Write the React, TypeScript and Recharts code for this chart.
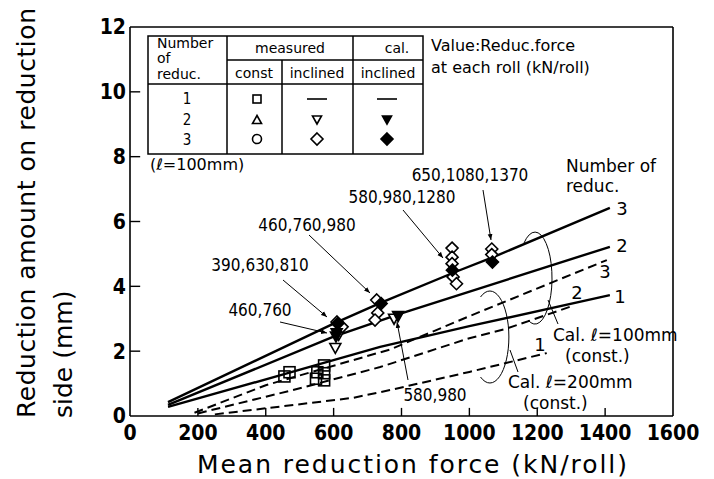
import React from 'react';
import { ComposedChart, Line, Scatter, XAxis, YAxis, ReferenceLine } from 'recharts';

const xTicks = [0, 200, 400, 600, 800, 1000, 1200, 1400, 1600];
const yTicks = [0, 2, 4, 6, 8, 10, 12];

// calculated, inclined rolls (solid)
const calInclined1 = [
  { x: 112, y: 0.28 }, { x: 457, y: 1.3 }, { x: 737, y: 2.13 }, { x: 1000, y: 2.77 }, { x: 1414, y: 3.73 },
];
const calInclined2 = [
  { x: 112, y: 0.34 }, { x: 598, y: 2.44 }, { x: 804, y: 3.18 }, { x: 1100, y: 4.17 }, { x: 1414, y: 5.22 },
];
const calInclined3 = [
  { x: 112, y: 0.43 }, { x: 600, y: 2.85 }, { x: 740, y: 3.5 }, { x: 960, y: 4.45 }, { x: 1070, y: 4.9 }, { x: 1414, y: 6.42 },
];

// calculated, constant rolls (dashed)
const calConst3 = [
  { x: 190, y: 0.1 }, { x: 400, y: 0.95 }, { x: 766, y: 2.05 }, { x: 1000, y: 3.08 }, { x: 1405, y: 4.81 },
];
const calConst2 = [
  { x: 200, y: 0.08 }, { x: 480, y: 0.8 }, { x: 737, y: 1.51 }, { x: 1000, y: 2.4 }, { x: 1111, y: 2.7 }, { x: 1305, y: 3.4 },
];
const calConst1 = [
  { x: 250, y: 0.05 }, { x: 657, y: 0.56 }, { x: 766, y: 0.8 }, { x: 1000, y: 1.36 }, { x: 1228, y: 1.94 },
];

// measured points
const measConst1 = [
  { x: 455, y: 1.22 }, { x: 470, y: 1.35 }, { x: 548, y: 1.15 }, { x: 552, y: 1.35 },
  { x: 572, y: 1.1 }, { x: 572, y: 1.32 }, { x: 572, y: 1.56 },
];
const measInclined2 = [
  { x: 605, y: 2.1 }, { x: 615, y: 2.5 }, { x: 778, y: 3.0 },
];
const calPts2 = [
  { x: 607, y: 2.45 }, { x: 609, y: 2.55 }, { x: 790, y: 3.08 },
];
const measInclined3 = [
  { x: 610, y: 2.9 }, { x: 625, y: 2.75 },
  { x: 727, y: 3.58 }, { x: 730, y: 3.18 }, { x: 722, y: 2.96 },
  { x: 949, y: 5.18 }, { x: 949, y: 4.9 }, { x: 949, y: 4.7 }, { x: 952, y: 4.29 }, { x: 962, y: 4.08 },
  { x: 1066, y: 5.15 }, { x: 1066, y: 4.98 },
];
const calPts3 = [
  { x: 612, y: 2.85 }, { x: 740, y: 3.47 }, { x: 950, y: 4.5 }, { x: 1068, y: 4.75 },
];

const tickFont = "'DejaVu Sans Condensed', 'Liberation Sans Narrow', sans-serif";
const textFont = "'DejaVu Sans', sans-serif";

const OpenSquare = (p: any) => (
  <rect x={p.cx - 5.5} y={p.cy - 5.5} width={11} height={11} fill="none" stroke="#000" strokeWidth={1.6} />
);
const DownTri = (filled: boolean) => (p: any) => (
  <path
    d={`M${p.cx - 5.5},${p.cy - 4.5} L${p.cx + 5.5},${p.cy - 4.5} L${p.cx},${p.cy + 5.5} Z`}
    fill={filled ? '#000' : '#fff'}
    stroke="#000"
    strokeWidth={1.6}
  />
);
const Diamond = (filled: boolean) => (p: any) => (
  <path
    d={`M${p.cx},${p.cy - 6} L${p.cx + 6},${p.cy} L${p.cx},${p.cy + 6} L${p.cx - 6},${p.cy} Z`}
    fill={filled ? '#000' : '#fff'}
    stroke="#000"
    strokeWidth={1.6}
  />
);

function Overlay() {
  const t = { fontFamily: textFont, fill: '#000' } as const;
  const n = { fontFamily: tickFont, fill: '#000' } as const;
  return (
    <svg width={714} height={479} style={{ position: 'absolute', left: 0, top: 0, pointerEvents: 'none' }}>
      <defs>
        <marker id="ah" viewBox="0 0 10 10" refX="10" refY="5" markerWidth="6" markerHeight="6" orient="auto">
          <path d="M0,1 L10,5 L0,9 Z" fill="#000" />
        </marker>
      </defs>

      {/* axis titles */}
      <text {...t} fontSize={25} transform="translate(35,418) rotate(-90)" textLength={410} lengthAdjust="spacing">
        Reduction amount on reduction
      </text>
      <text {...t} fontSize={25} transform="translate(72,418) rotate(-90)">side (mm)</text>
      <text {...t} fontSize={25} x={412} y={473} textAnchor="middle" textLength={430} lengthAdjust="spacing">
        Mean reduction force (kN/roll)
      </text>

      {/* legend table */}
      <g stroke="#000" strokeWidth={1.5} fill="none">
        <rect x={148} y={36} width={275} height={118} />
        <line x1={148} y1={84} x2={423} y2={84} />
        <line x1={227} y1={60} x2={423} y2={60} />
        <line x1={227} y1={36} x2={227} y2={154} />
        <line x1={282} y1={60} x2={282} y2={154} />
        <line x1={353} y1={36} x2={353} y2={154} />
      </g>
      <text {...t} fontSize={14} x={157} y={48}>Number</text>
      <text {...t} fontSize={14} x={157} y={63}>of</text>
      <text {...t} fontSize={14} x={157} y={79}>reduc.</text>
      <text {...t} fontSize={14} x={290} y={53} textAnchor="middle">measured</text>
      <text {...t} fontSize={14} x={397} y={53} textAnchor="middle">cal.</text>
      <text {...t} fontSize={14} x={254} y={78} textAnchor="middle">const</text>
      <text {...t} fontSize={14} x={317} y={78} textAnchor="middle">inclined</text>
      <text {...t} fontSize={14} x={388} y={78} textAnchor="middle">inclined</text>
      <text {...n} fontSize={15} x={187} y={104} textAnchor="middle">1</text>
      <text {...n} fontSize={15} x={187} y={125} textAnchor="middle">2</text>
      <text {...n} fontSize={15} x={187} y={145} textAnchor="middle">3</text>
      <g stroke="#000" strokeWidth={1.6}>
        <rect x={253} y={95} width={8} height={8} fill="none" />
        <path d="M257,115.5 L261.5,123.5 L252.5,123.5 Z" fill="none" />
        <circle cx={257} cy={139} r={4.5} fill="none" />
        <line x1={307} y1={99} x2={327} y2={99} />
        <path d="M312.5,116 L321.5,116 L317,124 Z" fill="none" />
        <path d="M317,133 L323,139 L317,145 L311,139 Z" fill="none" />
        <line x1={377} y1={99} x2={397} y2={99} />
        <path d="M382.5,116 L391.5,116 L387,124 Z" fill="#000" />
        <path d="M387,133 L393,139 L387,145 L381,139 Z" fill="#000" />
      </g>
      <text {...t} fontSize={16} x={431} y={51}>Value:Reduc.force</text>
      <text {...t} fontSize={16} x={431} y={73}>at each roll (kN/roll)</text>
      <text {...t} fontSize={16} x={150} y={170}>(ℓ=100mm)</text>

      {/* force annotations */}
      <text {...n} fontSize={17} x={470} y={181} textAnchor="middle">650,1080,1370</text>
      <text {...n} fontSize={17} x={402} y={203} textAnchor="middle">580,980,1280</text>
      <text {...n} fontSize={17} x={307} y={231} textAnchor="middle">460,760,980</text>
      <text {...n} fontSize={17} x={260} y={271} textAnchor="middle">390,630,810</text>
      <text {...n} fontSize={17} x={260} y={316} textAnchor="middle">460,760</text>
      <text {...n} fontSize={17} x={435} y={401} textAnchor="middle">580,980</text>
      <g stroke="#000" strokeWidth={1} markerEnd="url(#ah)">
        <line x1={483} y1={190} x2={491} y2={240} />
        <line x1={403} y1={210} x2={443} y2={258} />
        <line x1={309} y1={235} x2={370} y2={293} />
        <line x1={283} y1={280} x2={327} y2={317} />
        <line x1={280} y1={322} x2={327} y2={333} />
        <line x1={408} y1={380} x2={397} y2={322} />
      </g>

      {/* line labels */}
      <text {...t} fontSize={17} x={566} y={172}>Number of</text>
      <text {...t} fontSize={17} x={566} y={192}>reduc.</text>
      <text {...t} fontSize={18} x={622} y={215} textAnchor="middle">3</text>
      <text {...t} fontSize={18} x={622} y={252} textAnchor="middle">2</text>
      <text {...t} fontSize={18} x={620} y={303} textAnchor="middle">1</text>
      <text {...t} fontSize={18} x={605} y={278} textAnchor="middle">3</text>
      <text {...t} fontSize={18} x={577} y={299} textAnchor="middle">2</text>
      <text {...t} fontSize={18} x={540} y={351} textAnchor="middle">1</text>

      {/* ellipses */}
      <g stroke="#000" strokeWidth={1} fill="none">
        <path d="M524,243 A17 46 0 1 1 528,320" />
        <line x1={548} y1={300} x2={558} y2={324} />
        <path d="M480.5,297 A19 46 0 1 1 480.5,377" />
        <line x1={510} y1={350} x2={518} y2={372} />
      </g>
      <text {...t} fontSize={17} x={553} y={341}>Cal. ℓ=100mm</text>
      <text {...t} fontSize={17} x={565} y={362}>(const.)</text>
      <text {...t} fontSize={17} x={508} y={388}>Cal. ℓ=200mm</text>
      <text {...t} fontSize={17} x={523} y={409}>(const.)</text>
    </svg>
  );
}

export default function App() {
  const solid = { stroke: '#000', strokeWidth: 2.4, dot: false, isAnimationActive: false, type: 'linear' as const };
  const dashed = { ...solid, strokeWidth: 2, strokeDasharray: '9 5' };
  return (
    <div style={{ position: 'absolute', left: 0, top: 0, width: 714, height: 479, background: '#fff' }}>
      <ComposedChart width={714} height={479} margin={{ top: 27, right: 41, bottom: 0, left: 0 }}>
        <XAxis
          type="number"
          dataKey="x"
          domain={[0, 1600]}
          ticks={xTicks}
          interval={0}
          height={63}
          tickLine={false}
          tickSize={6}
          tickMargin={3}
          axisLine={{ stroke: '#000', strokeWidth: 1.6 }}
          tick={{ fill: '#000', fontSize: 21, fontFamily: tickFont, fontWeight: 700 }}
          allowDataOverflow
        />
        <YAxis
          type="number"
          dataKey="y"
          domain={[0, 12]}
          ticks={yTicks}
          interval={0}
          width={130}
          tickLine={false}
          tickSize={3}
          tickMargin={1}
          axisLine={{ stroke: '#000', strokeWidth: 1.6 }}
          tick={{ fill: '#000', fontSize: 21, fontFamily: tickFont, fontWeight: 700 }}
          allowDataOverflow
        />
        <ReferenceLine y={12} stroke="#000" strokeWidth={1.6} />
        <ReferenceLine x={1600} stroke="#000" strokeWidth={1.6} />
        {xTicks.slice(1, -1).map((v) => (
          <ReferenceLine key={'xt' + v} segment={[{ x: v, y: 0 }, { x: v, y: 0.25 }]} stroke="#000" strokeWidth={1.4} />
        ))}
        {yTicks.slice(1, -1).map((v) => (
          <ReferenceLine key={'yt' + v} segment={[{ x: 0, y: v }, { x: 30, y: v }]} stroke="#000" strokeWidth={1.4} />
        ))}

        <Line data={calConst1} dataKey="y" {...dashed} />
        <Line data={calConst2} dataKey="y" {...dashed} />
        <Line data={calConst3} dataKey="y" {...dashed} />
        <Line data={calInclined1} dataKey="y" {...solid} />
        <Line data={calInclined2} dataKey="y" {...solid} />
        <Line data={calInclined3} dataKey="y" {...solid} />

        <Scatter data={measConst1} dataKey="y" shape={OpenSquare} isAnimationActive={false} />
        <Scatter data={measInclined2} dataKey="y" shape={DownTri(false)} isAnimationActive={false} />
        <Scatter data={measInclined3} dataKey="y" shape={Diamond(false)} isAnimationActive={false} />
        <Scatter data={calPts2} dataKey="y" shape={DownTri(true)} isAnimationActive={false} />
        <Scatter data={calPts3} dataKey="y" shape={Diamond(true)} isAnimationActive={false} />
      </ComposedChart>
      <Overlay />
    </div>
  );
}
